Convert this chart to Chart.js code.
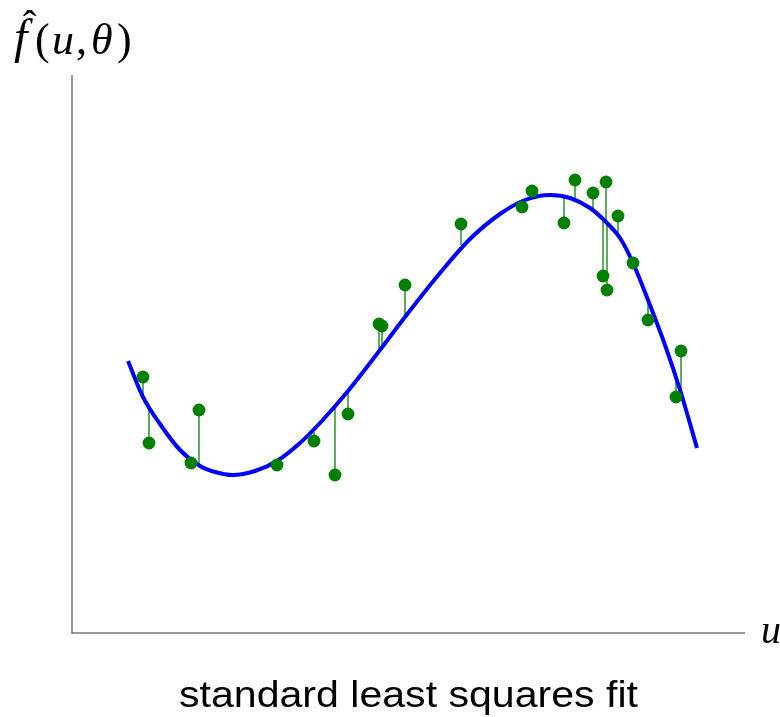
<!DOCTYPE html>
<html>
<head>
<meta charset="utf-8">
<script src="https://cdn.jsdelivr.net/npm/chart.js@4"></script>
<style>
  html, body { margin: 0; padding: 0; background: #fff; }
  canvas { display: block; }
</style>
</head>
<body>
<canvas id="fitChart" width="780" height="717"></canvas>
<script>
"use strict";

// Fitted curve (u along the axis, f up the axis)
const curveU = [56, 71, 88, 108, 128, 143, 161, 183, 205, 228, 248, 276, 308, 333, 368, 398, 428, 453, 478, 498, 518, 534, 548, 561, 576, 593, 609, 625];
const curveF = [272, 236, 209, 183, 167, 161, 158, 162, 172, 190, 210, 242, 283, 316, 360, 394, 419, 433, 438, 435, 425, 411, 395, 370, 333, 288, 240, 185];

// Observed points and the fitted value right under/over each one
const pointU = [71, 77, 119, 127, 205, 242, 263, 276, 307, 310, 333, 389, 450, 460, 492, 503, 521, 531, 534, 535, 546, 561, 576, 604, 609];
const pointF = [256, 190, 170, 223, 168, 192, 158, 219, 309, 307, 348, 409, 426, 442, 410, 453, 440, 357, 451, 343, 417, 370, 313, 236, 282];
const fitF   = [236, 226, 172, 169, 172, 201, 225, 242, 282, 286, 316, 388, 430, 435, 436, 433, 422, 415, 411, 409, 397, 370, 333, 255, 240];

const caption = 'standard least squares fit';

// Residual segments, one small dataset per point
var residualSets = pointU.map(function (u, i) {
    return {
        data: [{ x: u, y: pointF[i] }, { x: u, y: fitF[i] }],
        showLine: true,
        pointRadius: 0,
        borderColor: 'rgba(0,128,0,0.8)',
        borderWidth: 1.6,
        order: 3
    };
});

// Axes lines + labels
var axesPlugin = {
    id: 'axesAndLabels',
    beforeDatasetsDraw: function (chart) {
        var ctx = chart.ctx, a = chart.chartArea;
        ctx.save();
        ctx.strokeStyle = '#777';
        ctx.lineWidth = 1.5;
        ctx.beginPath();
        ctx.moveTo(a.left, a.top);
        ctx.lineTo(a.left, a.bottom);
        ctx.lineTo(a.right, a.bottom);
        ctx.stroke();
        ctx.restore();
    },
    afterDraw: function (chart) {
        var ctx = chart.ctx, a = chart.chartArea;
        ctx.save();
        ctx.fillStyle = '#000';
        ctx.textBaseline = 'alphabetic';
        ctx.textAlign = 'left';

        // y label: f-hat(u, theta)
        var it = 'italic 44px "Liberation Serif"', up = '44px "Liberation Serif"';
        ctx.font = 'italic 48px "Liberation Serif"';
        ctx.fillText('f', 14, 53);
        ctx.font = '40px "Liberation Serif"';
        ctx.fillText('\u02C6', 23, 38);
        ctx.font = up;  ctx.fillText('(', 35, 54);
        ctx.font = it;  ctx.fillText('u', 52, 54);
        ctx.font = up;  ctx.fillText(',', 76, 54);
        ctx.font = it;  ctx.fillText('\u03B8', 91, 54);
        ctx.font = up;  ctx.fillText(')', 117, 54);

        // x label
        ctx.font = 'italic 40px "Liberation Serif"';
        ctx.fillText('u', a.right + 16, a.bottom + 10);

        // caption (reference face runs wide, so stretch to its width)
        ctx.font = '37px "Liberation Sans"';
        var w = ctx.measureText(caption).width;
        ctx.translate(179, 707);
        ctx.scale(459 / w, 1);
        ctx.fillText(caption, 0, 0);
        ctx.restore();
    }
};

var config = {
    type: 'scatter',
    data: {
        datasets: residualSets.concat([{
            label: 'fit',
            data: curveU.map(function (u, i) { return { x: u, y: curveF[i] }; }),
            showLine: true,
            pointRadius: 0,
            borderColor: '#0000ff',
            borderWidth: 4,
            cubicInterpolationMode: 'monotone',
            order: 2
        }, {
            label: 'data',
            data: pointU.map(function (u, i) { return { x: u, y: pointF[i] }; }),
            pointRadius: 6.4,
            pointBackgroundColor: '#008000',
            pointBorderWidth: 0,
            order: 1
        }])
    },
    options: {
        responsive: false,
        animation: false,
        layout: {
            padding: { left: 72, right: 35, top: 75, bottom: 84 }
        },
        scales: {
            x: { type: 'linear', display: false, min: 0, max: 673 },
            y: { type: 'linear', display: false, min: 0, max: 558 }
        },
        plugins: {
            legend: { display: false },
            tooltip: { enabled: false }
        }
    },
    plugins: [axesPlugin]
};

new Chart(document.getElementById('fitChart').getContext('2d'), config);
</script>
</body>
</html>
